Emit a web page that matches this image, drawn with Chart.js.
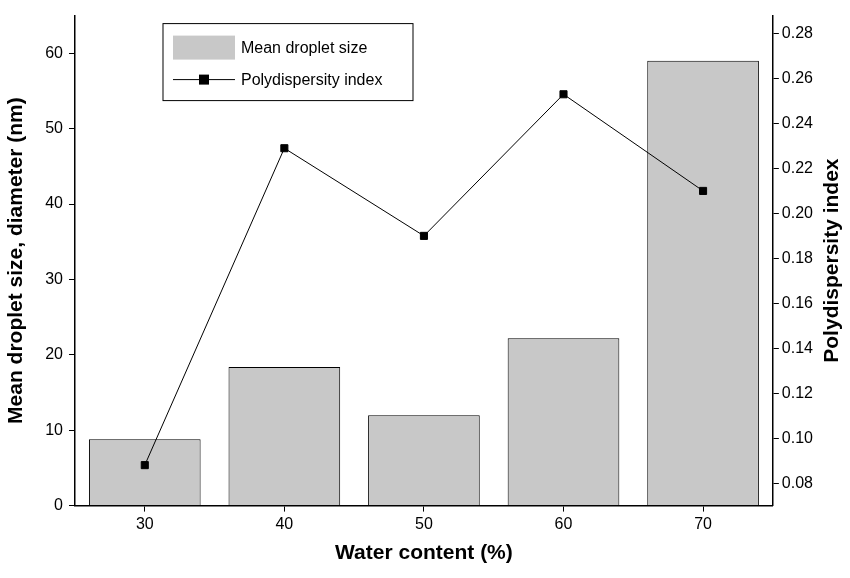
<!DOCTYPE html>
<html><head><meta charset="utf-8">
<script src="https://cdn.jsdelivr.net/npm/chart.js@4"></script>
<style>body{margin:0;background:#fff}#wrap{width:850px;height:578px}</style>
</head><body><div id="wrap"><canvas id="c"></canvas></div>
<script>
// data
var waterContent = ['30', '40', '50', '60', '70'];
var dropletSize = [8.8, 18.4, 12.0, 22.2, 59.0];
var pdi = [0.088, 0.229, 0.190, 0.253, 0.210];

var font = 'Liberation Sans, Arial, sans-serif';

// legend box and right title drawn by hand
var extras = {
  id: 'extras',
  afterDraw: function (chart) {
    var ctx = chart.ctx, a = chart.chartArea;
    var x = a.left + 88, y = a.top + 8;
    ctx.save();
    ctx.strokeStyle = '#000'; ctx.lineWidth = 1;
    ctx.strokeRect(x, y, 250, 77);
    ctx.fillStyle = '#c8c8c8';
    ctx.fillRect(x + 10, y + 12, 62, 24);
    ctx.beginPath(); ctx.moveTo(x + 10, y + 56); ctx.lineTo(x + 72, y + 56); ctx.stroke();
    ctx.fillStyle = '#000'; ctx.fillRect(x + 36, y + 51, 10, 10);
    ctx.font = '16px ' + font; ctx.textBaseline = 'middle';
    ctx.fillText('Mean droplet size', x + 78, y + 25);
    ctx.fillText('Polydispersity index', x + 78, y + 57);
    ctx.translate(832, (a.top + a.bottom) / 2);
    ctx.rotate(-Math.PI / 2);
    ctx.textAlign = 'center';
    ctx.font = 'bold 21px ' + font;
    ctx.fillText('Polydispersity index', 0, 0);
    ctx.restore();
  }
};

var axisGrid = { display: true, drawOnChartArea: false, drawTicks: true, tickLength: 6, color: '#000', tickColor: '#000' };

new Chart(document.getElementById('c'), {
  data: {
    labels: waterContent,
    datasets: [{
      type: 'line', data: pdi, yAxisID: 'y2',
      borderColor: '#000', borderWidth: 1, pointStyle: 'rect',
      pointRadius: 5, pointBackgroundColor: '#000', pointBorderColor: '#000'
    }, {
      type: 'bar', data: dropletSize, yAxisID: 'y',
      backgroundColor: '#c8c8c8', borderColor: '#000', borderWidth: 1,
      barPercentage: 0.8, categoryPercentage: 1
    }]
  },
  options: {
    responsive: true, maintainAspectRatio: false, animation: false,
    layout: { padding: { top: 0, right: 34, bottom: 8, left: 0 } },
    plugins: { legend: { display: false }, tooltip: { enabled: false } },
    scales: {
      x: {
        offset: true,
        grid: { display: true, drawOnChartArea: false, offset: false, tickLength: 6, tickColor: '#000' },
        border: { color: '#000', width: 1.5 },
        ticks: { color: '#000', font: { size: 16, family: font } },
        title: { display: true, text: 'Water content (%)', color: '#000', font: { size: 21, weight: 'bold', family: font } }
      },
      y: {
        position: 'left', min: 0, max: 65,
        afterBuildTicks: function (s) { s.ticks = [0, 10, 20, 30, 40, 50, 60].map(function (v) { return { value: v }; }); },
        grid: axisGrid,
        border: { color: '#000', width: 1.5 },
        ticks: { color: '#000', font: { size: 16, family: font }, padding: 6 },
        title: { display: true, text: 'Mean droplet size, diameter (nm)', color: '#000', font: { size: 21, weight: 'bold', family: font }, padding: { top: 4, bottom: 10 } }
      },
      y2: {
        position: 'right', min: 0.07, max: 0.288,
        afterBuildTicks: function (s) {
          var t = []; for (var v = 0.08; v <= 0.281; v += 0.02) t.push({ value: Math.round(v * 100) / 100 });
          s.ticks = t;
        },
        grid: axisGrid,
        border: { color: '#000', width: 1.5 },
        ticks: { color: '#000', font: { size: 16, family: font }, callback: function (v) { return v.toFixed(2); } }
      }
    }
  },
  plugins: [extras]
});
</script></body></html>
